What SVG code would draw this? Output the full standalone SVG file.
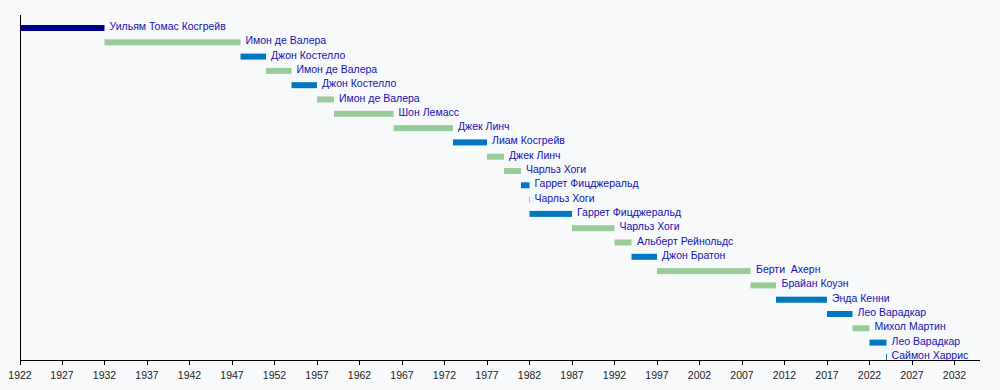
<svg xmlns="http://www.w3.org/2000/svg" width="1000" height="390" viewBox="0 0 1000 390">
<style>
.bg{fill:#f8f9fa}
.ax{stroke:#000;stroke-width:1;fill:none;shape-rendering:crispEdges}
.tk{font-family:"Liberation Sans",Arial,sans-serif;font-size:10.5px;fill:#222;text-anchor:middle}
.lb{font-family:"Liberation Sans",Arial,sans-serif;font-size:10.5px;fill:#1212b4;white-space:pre}
.nv{fill:#00008b}
.gr{fill:#99cc99}
.bl{fill:#0077c0}
</style>
<rect class="bg" x="0" y="0" width="1000" height="390"/>
<g id="axes">
<path class="ax" d="M20.5 15V360.5H980"/>
<path class="ax" d="M20.5 360v5M62.5 360v5M104.5 360v5M147.5 360v5M189.5 360v5M232.5 360v5M274.5 360v5M317.5 360v5M359.5 360v5M402.5 360v5M444.5 360v5M487.5 360v5M529.5 360v5M572.5 360v5M614.5 360v5M657.5 360v5M699.5 360v5M742.5 360v5M784.5 360v5M827.5 360v5M869.5 360v5M912.5 360v5M954.5 360v5"/>
<text class="tk" x="20" y="379">1922</text>
<text class="tk" x="62" y="379">1927</text>
<text class="tk" x="104.5" y="379">1932</text>
<text class="tk" x="147" y="379">1937</text>
<text class="tk" x="189.5" y="379">1942</text>
<text class="tk" x="232" y="379">1947</text>
<text class="tk" x="274.5" y="379">1952</text>
<text class="tk" x="317" y="379">1957</text>
<text class="tk" x="359.5" y="379">1962</text>
<text class="tk" x="402" y="379">1967</text>
<text class="tk" x="444.5" y="379">1972</text>
<text class="tk" x="487" y="379">1977</text>
<text class="tk" x="529.5" y="379">1982</text>
<text class="tk" x="572" y="379">1987</text>
<text class="tk" x="614.5" y="379">1992</text>
<text class="tk" x="657" y="379">1997</text>
<text class="tk" x="699.5" y="379">2002</text>
<text class="tk" x="742" y="379">2007</text>
<text class="tk" x="784.5" y="379">2012</text>
<text class="tk" x="827" y="379">2017</text>
<text class="tk" x="869.5" y="379">2022</text>
<text class="tk" x="912" y="379">2027</text>
<text class="tk" x="954.5" y="379">2032</text>
</g>
<g id="bars">
<g id="r1"><rect class="nv" x="20.5" y="25" width="84" height="6"/><text class="lb" x="109.5" y="30">Уильям Томас Косгрейв</text></g>
<g id="r2"><rect class="gr" x="104.5" y="39.3" width="136" height="6"/><text class="lb" x="245.5" y="44.3">Имон де Валера</text></g>
<g id="r3"><rect class="bl" x="240.5" y="53.6" width="25.5" height="6"/><text class="lb" x="271" y="58.6">Джон Костелло</text></g>
<g id="r4"><rect class="gr" x="266" y="67.9" width="25.5" height="6"/><text class="lb" x="296.5" y="72.9">Имон де Валера</text></g>
<g id="r5"><rect class="bl" x="291.5" y="82.2" width="25.5" height="6"/><text class="lb" x="322" y="87.2">Джон Костелло</text></g>
<g id="r6"><rect class="gr" x="317" y="96.5" width="17" height="6"/><text class="lb" x="339" y="101.5">Имон де Валера</text></g>
<g id="r7"><rect class="gr" x="334" y="110.8" width="59.5" height="6"/><text class="lb" x="398.5" y="115.8">Шон Лемасс</text></g>
<g id="r8"><rect class="gr" x="393.5" y="125.1" width="59.5" height="6"/><text class="lb" x="458" y="130.1">Джек Линч</text></g>
<g id="r9"><rect class="bl" x="453" y="139.4" width="34" height="6"/><text class="lb" x="492" y="144.4">Лиам Косгрейв</text></g>
<g id="r10"><rect class="gr" x="487" y="153.7" width="17" height="6"/><text class="lb" x="509" y="158.7">Джек Линч</text></g>
<g id="r11"><rect class="gr" x="504" y="168" width="17" height="6"/><text class="lb" x="526" y="173">Чарльз Хоги</text></g>
<g id="r12"><rect class="bl" x="521" y="182.3" width="8.5" height="6"/><text class="lb" x="534.5" y="187.3">Гаррет Фицджеральд</text></g>
<g id="r13"><rect class="gr" x="529" y="196.6" width="1" height="6"/><text class="lb" x="534.5" y="201.6">Чарльз Хоги</text></g>
<g id="r14"><rect class="bl" x="529.5" y="210.9" width="42.5" height="6"/><text class="lb" x="577" y="215.9">Гаррет Фицджеральд</text></g>
<g id="r15"><rect class="gr" x="572" y="225.2" width="42.5" height="6"/><text class="lb" x="619.5" y="230.2">Чарльз Хоги</text></g>
<g id="r16"><rect class="gr" x="614.5" y="239.5" width="17" height="6"/><text class="lb" x="637" y="244.5">Альберт Рейнольдс</text></g>
<g id="r17"><rect class="bl" x="631.5" y="253.8" width="25.5" height="6"/><text class="lb" x="662" y="258.8">Джон Братон</text></g>
<g id="r18"><rect class="gr" x="657" y="268.1" width="93.5" height="6"/><text class="lb" x="756" y="273.1">Берти  Ахерн</text></g>
<g id="r19"><rect class="gr" x="750.5" y="282.4" width="25.5" height="6"/><text class="lb" x="781.5" y="287.4">Брайан Коуэн</text></g>
<g id="r20"><rect class="bl" x="776" y="296.7" width="51" height="6"/><text class="lb" x="832" y="301.7">Энда Кенни</text></g>
<g id="r21"><rect class="bl" x="827" y="311" width="25.5" height="6"/><text class="lb" x="857.5" y="316">Лео Варадкар</text></g>
<g id="r22"><rect class="gr" x="852.5" y="325.3" width="17" height="6"/><text class="lb" x="874.5" y="330.3">Михол Мартин</text></g>
<g id="r23"><rect class="bl" x="869.5" y="339.6" width="17" height="6"/><text class="lb" x="891.5" y="344.6">Лео Варадкар</text></g>
<g id="r24"><rect class="bl" x="886" y="353.9" width="1" height="6"/><text class="lb" x="891.5" y="358.9">Саймон Харрис</text></g>
</g>
</svg>
